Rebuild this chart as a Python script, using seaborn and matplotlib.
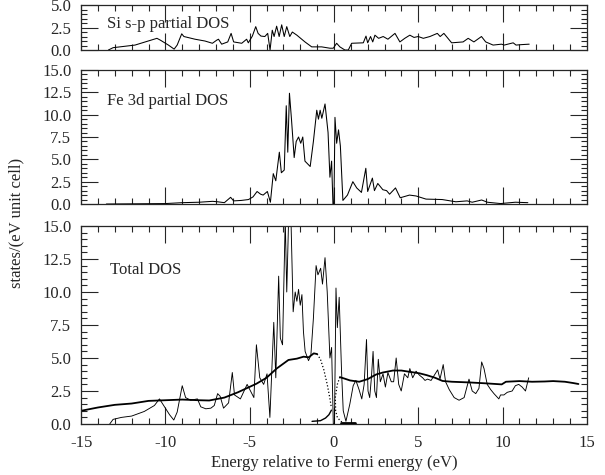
import numpy as np
import pandas as pd
import matplotlib
matplotlib.use('Agg')
import matplotlib.pyplot as plt
import seaborn as sns
from matplotlib.ticker import MultipleLocator, FormatStrFormatter

# Si s-p partial DOS
si_e = [-13.38, -13.1, -11.8, -10.5, -10.3, -9.82, -9.48, -9.3, -9.03, -8.9, -8.24, -7.65, -7.21,
        -6.95, -6.85, -6.66, -6.3, -6.1, -5.95, -5.47, -5.18, -5.08, -4.84, -4.64, -4.5, -4.33,
        -4.1, -3.93, -3.79, -3.66, -3.55, -3.4, -3.25, -3.1, -2.95, -2.8, -2.62, -2.47, -2.2,
        -1.72, -1.32, -0.73, -0.24, -0.04, 0.16, 0.35, 0.65, 0.85, 1.05, 1.74, 1.9, 2.0, 2.17,
        2.3, 2.43, 2.65, 2.92, 3.2, 3.62, 3.91, 4.2, 4.5, 4.75, 5.0, 5.3, 5.69, 6.13, 6.3,
        6.52, 6.98, 7.66, 7.96, 8.3, 8.75, 9.0, 9.44, 9.94, 10.1, 10.63, 10.8, 11.13, 11.58]
si_v = [0.0, 0.26, 0.55, 1.3, 1.1, 0.55, 0.1, 0.55, 1.8, 1.5, 1.2, 1.0, 0.75,
        1.1, 1.2, 0.65, 0.9, 1.85, 0.9, 0.75, 1.2, 0.8, 1.55, 2.6, 1.85, 1.55,
        1.5, 1.85, 0.0, 2.2, 1.5, 2.65, 1.5, 2.8, 1.5, 2.6, 1.5, 2.0, 1.65,
        0.9, 0.35, 0.35, 0.2, 0.2, 0.75, 0.35, 0.0, 0.0, 0.75, 0.8, 1.55, 0.8, 1.5,
        0.9, 1.65, 1.3, 1.5, 1.2, 1.85, 0.9, 1.3, 1.65, 1.4, 1.5, 1.3, 1.5, 1.85, 1.5,
        1.85, 0.8, 0.9, 1.3, 0.9, 1.5, 0.9, 0.55, 0.65, 0.55, 0.8, 0.55, 0.6, 0.65]

# Fe 3d partial DOS
fe_e = [-13.5, -12.0, -10.0, -9.0, -8.0, -7.2, -6.9, -6.5, -6.13, -5.95, -5.5, -5.07, -4.8,
        -4.56, -4.35, -4.2, -3.95, -3.77, -3.6, -3.45, -3.24, -3.12, -2.95, -2.83, -2.74,
        -2.64, -2.52, -2.36, -2.24, -2.1, -1.97, -1.85, -1.72, -1.41, -1.22, -1.02, -0.92,
        -0.82, -0.72, -0.53, -0.35, -0.24, -0.14, -0.06, 0.0, 0.06, 0.16, 0.27, 0.38, 0.53,
        0.8, 1.12, 1.35, 1.63, 1.89, 2.0, 2.28, 2.4, 2.6, 2.9, 3.12, 3.3, 3.65, 3.93, 4.48,
        4.87, 5.46, 6.42, 7.23, 7.9, 8.2, 8.76, 9.1, 9.88, 10.76, 11.5]
fe_v = [0.0, 0.02, 0.05, 0.15, 0.2, 0.3, 0.25, 0.15, 0.75, 0.35, 0.4, 0.5, 0.8,
        1.4, 1.1, 1.0, 1.4, 0.2, 3.4, 2.6, 5.8, 3.5, 3.8, 11.0, 5.8,
        12.4, 9.5, 5.2, 7.0, 7.5, 6.8, 7.5, 4.8, 4.2, 7.0, 10.5, 9.5,
        10.5, 9.6, 11.2, 8.0, 3.0, 4.8, 0.0, 0.0, 9.7, 6.8, 8.3, 6.5, 0.4,
        1.0, 2.5, 1.8, 1.3, 4.0, 1.4, 2.9, 1.5, 2.3, 1.6, 1.5, 1.1, 1.8, 0.7, 1.0,
        0.9, 0.55, 0.5, 0.25, 0.35, 0.2, 0.45, 0.2, 0.05, 0.2, 0.15]

# Total DOS (thin line)
tot_e = [-13.3, -13.1, -12.6, -12.0, -11.25, -10.65, -10.35, -10.05, -9.75, -9.5, -9.3, -9.0,
         -8.8, -8.5, -8.1, -7.9, -7.6, -7.3, -7.1, -6.9, -6.75, -6.55, -6.25, -6.03, -5.9,
         -5.55, -5.15, -4.95, -4.75, -4.6, -4.4, -4.17, -3.97, -3.8, -3.57, -3.45, -3.28,
         -3.18, -3.05, -2.89, -2.8, -2.69, -2.55, -2.42, -2.3, -2.2, -2.1, -2.0, -1.9, -1.81,
         -1.71, -1.51, -1.37, -1.22, -1.06, -0.95, -0.79, -0.68, -0.53, -0.4, -0.24, -0.14,
         -0.04, 0.03, 0.12, 0.2, 0.31, 0.45, 0.55, 0.71, 0.94, 1.14, 1.3, 1.49, 1.65, 1.79,
         1.93, 2.02, 2.12, 2.22, 2.32, 2.42, 2.52, 2.63, 2.75, 2.91, 3.05, 3.2, 3.4, 3.54,
         3.69, 3.84, 3.99, 4.18, 4.38, 4.5, 4.67, 4.87, 5.07, 5.26, 5.4, 5.55, 5.76, 6.05,
         6.15, 6.29, 6.48, 6.62, 6.84, 7.13, 7.42, 7.72, 8.01, 8.2, 8.41, 8.6, 8.76, 8.9,
         9.09, 9.3, 9.49, 9.78, 9.88, 10.08, 10.28, 10.57, 10.76, 10.96, 11.16, 11.36, 11.55]
tot_v = [0.0, 0.35, 0.5, 0.6, 0.95, 1.4, 1.9, 1.3, 0.7, 0.3, 0.9, 2.9,
         2.0, 1.8, 1.9, 1.3, 1.15, 1.2, 1.4, 2.3, 2.1, 1.2, 1.6, 3.9, 2.2,
         1.9, 3.0, 2.5, 2.0, 6.0, 3.5, 3.0, 3.8, 0.5, 7.7, 3.5, 11.2,
         6.5, 6.0, 15.5, 10.0, 15.5, 15.5, 8.5, 10.0, 9.3, 10.2, 9.0, 9.8, 7.0,
         5.5, 4.8, 5.2, 8.0, 12.0, 11.3, 11.8, 10.6, 12.6, 10.0, 5.0, 5.8,
         0.0, 0.0, 10.3, 7.3, 9.6, 4.0, 1.0, 0.2, 1.5, 2.9, 3.3, 2.6, 1.9, 3.0,
         6.4, 2.5, 2.0, 3.5, 5.5, 2.5, 2.0, 4.9, 3.2, 3.8, 2.8, 3.9, 3.2, 3.2,
         5.0, 3.0, 2.5, 3.8, 3.5, 4.2, 3.5, 4.0, 3.7, 3.5, 3.3, 3.4, 3.3, 3.9,
         4.1, 3.4, 4.5, 3.2, 2.6, 2.0, 1.8, 2.0, 3.4, 2.5, 2.3, 2.7, 4.7, 4.2,
         3.0, 2.6, 2.3, 1.9, 2.2, 2.2, 2.4, 2.5, 2.9, 3.0, 2.8, 2.5, 3.5]

# Total DOS (thick smooth line), below and above the gap
smooth_lo_e = [-15.0, -14.0, -13.0, -12.0, -11.0, -10.0, -9.0, -8.0, -7.4, -6.5, -5.7, -4.6,
               -4.0, -3.4, -2.7, -2.2, -1.8, -1.5, -1.2, -1.0]
smooth_lo_v = [1.0, 1.25, 1.45, 1.55, 1.75, 1.8, 1.85, 1.8, 1.78, 2.0, 2.4, 3.05,
               3.5, 4.2, 4.85, 4.95, 5.1, 5.05, 5.35, 5.3]
smooth_hi_e = [0.35, 0.6, 0.95, 1.5, 2.0, 2.5, 2.9, 3.5, 4.0, 4.5, 5.07, 5.5, 6.0, 6.44, 7.0,
               8.0, 9.0, 9.95, 10.2, 11.0, 11.75, 12.5, 13.0, 13.7, 14.2, 14.5]
smooth_hi_v = [3.55, 3.45, 3.3, 3.2, 3.4, 3.75, 3.9, 4.05, 4.05, 3.95, 3.84, 3.7, 3.5, 3.26, 3.2,
               3.15, 3.08, 3.0, 3.2, 3.25, 3.2, 3.22, 3.25, 3.2, 3.1, 3.03]

# dotted edges around the gap and the small solid pieces
dot_lo_e = [-1.0, -0.8, -0.6, -0.4, -0.25, -0.15]
dot_lo_v = [5.3, 4.9, 4.1, 3.0, 2.0, 1.2]
dot_hi_e = [0.35, 0.2, 0.08, 0.1, 0.2, 0.4, 0.6]
dot_hi_v = [3.55, 3.0, 2.0, 1.0, 0.5, 0.2, 0.1]
edge_e = [-1.3, -0.8, -0.5, -0.3, -0.15]
edge_v = [0.2, 0.25, 0.45, 0.7, 1.05]
flat_e = [0.4, 1.25]
flat_v = [0.1, 0.1]

sns.set_style('ticks')
plt.rcParams['font.family'] = ['Liberation Serif', 'DejaVu Serif']
plt.rcParams['axes.unicode_minus'] = False
plt.rcParams['font.size'] = 12

fig = plt.figure(figsize=(6.05, 4.75), dpi=100)
ax_si = fig.add_axes([0.134, 0.8947, 0.836, 0.0947])
ax_fe = fig.add_axes([0.134, 0.5705, 0.836, 0.2821])
ax_tot = fig.add_axes([0.134, 0.1074, 0.836, 0.4168])

sns.lineplot(x=si_e, y=si_v, ax=ax_si, color='black', linewidth=0.75, sort=False, estimator=None)
sns.lineplot(x=fe_e, y=fe_v, ax=ax_fe, color='black', linewidth=0.75, sort=False, estimator=None)
sns.lineplot(x=tot_e, y=tot_v, ax=ax_tot, color='black', linewidth=0.65, sort=False, estimator=None)
sns.lineplot(x=smooth_lo_e, y=smooth_lo_v, ax=ax_tot, color='black', linewidth=1.3, sort=False, estimator=None)
sns.lineplot(x=smooth_hi_e, y=smooth_hi_v, ax=ax_tot, color='black', linewidth=1.3, sort=False, estimator=None)
sns.lineplot(x=dot_lo_e, y=dot_lo_v, ax=ax_tot, color='black', linewidth=0.9, linestyle=':', sort=False, estimator=None)
sns.lineplot(x=dot_hi_e, y=dot_hi_v, ax=ax_tot, color='black', linewidth=0.9, linestyle=':', sort=False, estimator=None)
sns.lineplot(x=edge_e, y=edge_v, ax=ax_tot, color='black', linewidth=1.0, sort=False, estimator=None)
sns.lineplot(x=flat_e, y=flat_v, ax=ax_tot, color='black', linewidth=2.0, sort=False, estimator=None)

for ax, ymax in [(ax_si, 5.0), (ax_fe, 15.0), (ax_tot, 15.0)]:
    ax.set_xlim(-15, 15)
    ax.set_ylim(0, ymax)
    ax.xaxis.set_major_locator(MultipleLocator(5))
    ax.xaxis.set_minor_locator(MultipleLocator(1))
    ax.yaxis.set_major_locator(MultipleLocator(2.5))
    ax.yaxis.set_minor_locator(MultipleLocator(0.5))
    ax.yaxis.set_major_formatter(FormatStrFormatter('%.1f'))
    ax.tick_params(which='both', direction='in', top=True, right=True, width=0.8, labelsize=12)
    ax.tick_params(which='major', length=12)
    ax.tick_params(which='minor', length=4.5)
    ax.tick_params(axis='y', which='major', pad=7)
    ax.tick_params(axis='x', which='major', pad=8)
    for sp in ax.spines.values():
        sp.set_linewidth(0.9)
    ax.set_xlabel('')
    ax.set_ylabel('')

ax_si.tick_params(labelbottom=False)
ax_fe.tick_params(labelbottom=False)

ax_si.text(0.052, 0.58, 'Si s-p partial DOS', transform=ax_si.transAxes, fontsize=12, va='center')
ax_fe.text(0.052, 0.77, 'Fe 3d partial DOS', transform=ax_fe.transAxes, fontsize=12, va='center')
ax_tot.text(0.058, 0.78, 'Total DOS', transform=ax_tot.transAxes, fontsize=12, va='center')

ax_tot.set_xlabel('Energy relative to Fermi energy (eV)', fontsize=12, labelpad=3)
fig.text(0.027, 0.53, 'states/(eV unit cell)', rotation=90, ha='center', va='center', fontsize=12)

fig.savefig('out.png', dpi=100)
